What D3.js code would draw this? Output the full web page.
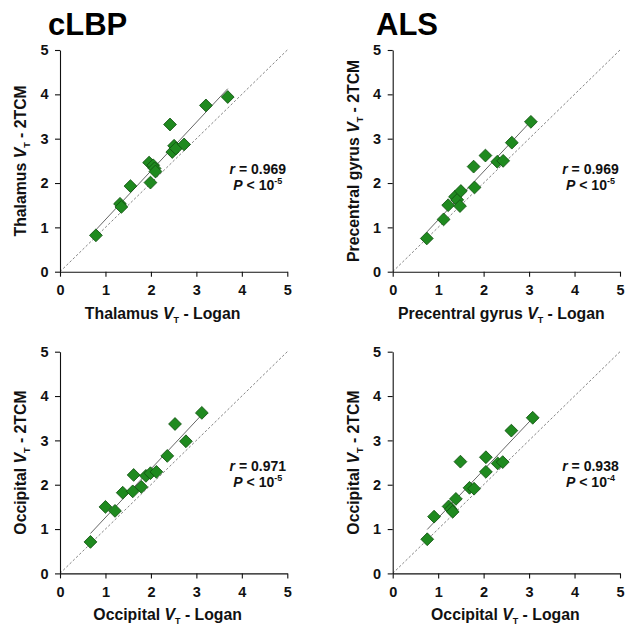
<!DOCTYPE html>
<html>
<head>
<meta charset="utf-8">
<script src="https://cdn.jsdelivr.net/npm/d3@7"></script>
<style>
  body { margin: 0; background: #fff; }
  svg { font-family: "Liberation Sans", Arial, sans-serif; }
</style>
</head>
<body>
<svg width="627" height="626"></svg>
<script>
// values
const groupTitles = ["cLBP", "ALS"]
const tickValues = [0, 1, 2, 3, 4, 5]

const thalamusLogan = [0.79, 1.32, 1.35, 1.55, 1.96, 1.99, 2.05, 2.08, 2.10, 2.42, 2.47, 2.51, 2.55, 2.73, 3.21, 3.69]
const thalamus2TCM  = [0.82, 1.53, 1.46, 1.93, 2.46, 2.01, 2.40, 2.33, 2.26, 3.32, 2.70, 2.84, 2.78, 2.87, 3.75, 3.94]

const precentralLogan = [0.75, 1.12, 1.22, 1.37, 1.42, 1.48, 1.50, 1.78, 1.80, 2.04, 2.30, 2.43, 2.62, 3.04]
const precentral2TCM  = [0.75, 1.18, 1.50, 1.69, 1.62, 1.48, 1.82, 2.37, 1.90, 2.62, 2.48, 2.50, 2.91, 3.38]

const occipitalLoganLBP = [0.67, 1.00, 1.21, 1.38, 1.60, 1.62, 1.79, 1.89, 1.99, 2.12, 2.36, 2.53, 2.77, 3.12]
const occipital2TCMLBP  = [0.71, 1.50, 1.41, 1.82, 1.85, 2.22, 1.95, 2.20, 2.26, 2.29, 2.65, 3.37, 2.98, 3.62]

const occipitalLoganALS = [0.76, 0.91, 1.23, 1.28, 1.32, 1.39, 1.49, 1.69, 1.79, 2.05, 2.05, 2.31, 2.42, 2.61, 3.08]
const occipital2TCMALS  = [0.77, 1.28, 1.51, 1.45, 1.39, 1.68, 2.52, 1.93, 1.91, 2.29, 2.62, 2.48, 2.51, 3.22, 3.51]

const regions = ["Thalamus", "Precentral gyrus", "Occipital", "Occipital"]
const rValues = ["0.969", "0.969", "0.971", "0.938"]
const pExponents = ["-5", "-5", "-5", "-4"]

const panels = [
  {x: thalamusLogan, y: thalamus2TCM, left: 60, top: 50, titleDx: -11},
  {x: precentralLogan, y: precentral2TCM, left: 392.7, top: 50, titleDx: -5},
  {x: occipitalLoganLBP, y: occipital2TCMLBP, left: 60, top: 351.7, titleDx: -6},
  {x: occipitalLoganALS, y: occipital2TCMALS, left: 392.7, top: 351.7, titleDx: -1}
]

var width = 227.3, height = 221.7
var svg = d3.select("svg")

// group titles
groupTitles.forEach((t, i) => {
  svg.append("text")
    .attr("x", i == 0 ? 48 : 376)
    .attr("y", 35)
    .style("font-size", "31px")
    .style("font-weight", "bold")
    .style("fill", "#000")
    .text(t)
})

function fit(xs, ys) {
  var n = xs.length
  var mx = d3.mean(xs), my = d3.mean(ys)
  var sxy = 0, sxx = 0
  for (let i = 0; i < n; i++) {
    sxy += (xs[i] - mx) * (ys[i] - my)
    sxx += (xs[i] - mx) * (xs[i] - mx)
  }
  var b = sxy / sxx
  return {b: b, a: my - b * mx}
}

panels.forEach((p, i) => {
  var g = svg.append("g")
    .attr("transform", "translate(" + p.left + "," + p.top + ")")

  var x = d3.scaleLinear().domain([0, 5]).range([0, width])
  var y = d3.scaleLinear().domain([0, 5]).range([height, 0])

  // identity line
  g.append("line")
    .attr("x1", x(0)).attr("y1", y(0))
    .attr("x2", x(5)).attr("y2", y(5))
    .style("stroke", "#777")
    .style("stroke-width", 0.9)
    .style("stroke-dasharray", "2.5,2")

  // regression line
  var f = fit(p.x, p.y)
  var x0 = d3.min(p.x), x1 = d3.max(p.x)
  g.append("line")
    .attr("x1", x(x0)).attr("y1", y(f.a + f.b * x0))
    .attr("x2", x(x1)).attr("y2", y(f.a + f.b * x1))
    .style("stroke", "#666")
    .style("stroke-width", 1)

  // axes
  var xAxis = g.append("g")
    .attr("transform", "translate(0," + height + ")")
    .call(d3.axisBottom(x).tickValues(tickValues).tickFormat(d3.format("d"))
      .tickSize(5).tickSizeOuter(0).tickPadding(8))
  var yAxis = g.append("g")
    .call(d3.axisLeft(y).tickValues(tickValues).tickFormat(d3.format("d"))
      .tickSize(5).tickSizeOuter(0).tickPadding(6.5))
  ;[xAxis, yAxis].forEach(a => {
    a.selectAll("path, line").style("stroke", "#111").style("stroke-width", 1.1)
    a.selectAll("text")
      .style("font-size", "14.5px")
      .style("font-weight", "bold")
      .style("font-family", "'Liberation Sans', Arial, sans-serif")
      .style("fill", "#111")
  })

  // points
  g.append("g")
    .selectAll("path")
    .data(p.x.map((v, k) => [v, p.y[k]]))
    .enter()
    .append("path")
    .attr("d", d3.symbol().type(d3.symbolSquare).size(82))
    .attr("transform", d => "translate(" + x(d[0]) + "," + y(d[1]) + ") rotate(45)")
    .style("fill", "#1f8a1f")
    .style("stroke", "#125212")
    .style("stroke-width", 0.8)

  // axis titles
  var xt = g.append("text")
    .attr("x", width / 2 + p.titleDx)
    .attr("y", height + 47)
    .attr("text-anchor", "middle")
    .style("font-size", "15.8px")
    .style("font-weight", "bold")
    .style("fill", "#111")
  xt.append("tspan").text(regions[i] + " ")
  xt.append("tspan").style("font-style", "italic").text("V")
  xt.append("tspan").attr("dy", 4).style("font-size", "9px").text("T")
  xt.append("tspan").attr("dy", -4).text(" - Logan")

  var yt = g.append("text")
    .attr("transform", "translate(-34," + (height / 2) + ") rotate(-90)")
    .attr("text-anchor", "middle")
    .style("font-size", "15.8px")
    .style("font-weight", "bold")
    .style("fill", "#111")
  yt.append("tspan").text(regions[i] + " ")
  yt.append("tspan").style("font-style", "italic").text("V")
  yt.append("tspan").attr("dy", 4).style("font-size", "9px").text("T")
  yt.append("tspan").attr("dy", -4).text(" - 2TCM")

  // statistics
  var sx = width - 29.5
  var sy = i < 2 ? 124 : 119.5
  var rt = g.append("text")
    .attr("x", sx).attr("y", sy)
    .attr("text-anchor", "middle")
    .style("font-size", "14px")
    .style("font-weight", "bold")
    .style("fill", "#111")
  rt.append("tspan").style("font-style", "italic").text("r")
  rt.append("tspan").text(" = " + rValues[i])

  var pt = g.append("text")
    .attr("x", sx).attr("y", sy + 16)
    .attr("text-anchor", "middle")
    .style("font-size", "14px")
    .style("font-weight", "bold")
    .style("fill", "#111")
  pt.append("tspan").style("font-style", "italic").text("P")
  pt.append("tspan").text(" < 10")
  pt.append("tspan").attr("dy", -6).style("font-size", "9px").text(pExponents[i])
})
</script>
</body>
</html>
